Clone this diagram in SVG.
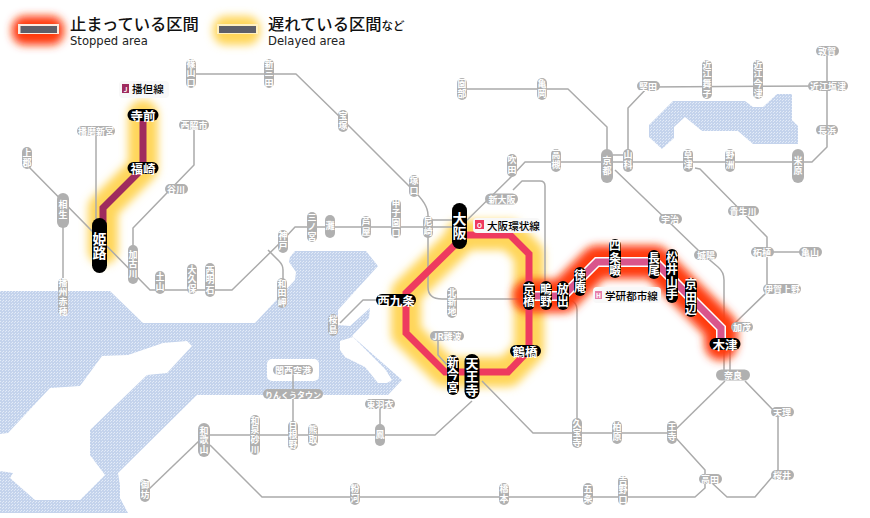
<svg xmlns="http://www.w3.org/2000/svg" width="870" height="518" viewBox="0 0 870 518">
<style>
text{font-family:"Noto Sans CJK JP","Noto Sans",sans-serif;text-anchor:middle}
.gp{fill:#b0b0b0}
.bp{fill:#000}
.g{fill:#fff;font-size:9px;font-weight:700;dominant-baseline:central}
.gv{fill:#fff;font-size:9px;font-weight:700;writing-mode:vertical-rl;letter-spacing:.6px}
.b{fill:#fff;font-size:12.5px;font-weight:700;dominant-baseline:central}
.bv{fill:#fff;font-size:12px;font-weight:700;writing-mode:vertical-rl;letter-spacing:.5px}
.bl{fill:#fff;font-size:14px;font-weight:700;writing-mode:vertical-rl;letter-spacing:.5px}
.ln{fill:none;stroke:#ababab;stroke-width:1.5;stroke-linejoin:round}
.hy{fill:none;stroke:#ffd65a;stroke-width:30;stroke-linejoin:round;stroke-linecap:round}
.hr{fill:none;stroke:#ff3a08;stroke-width:33;stroke-linejoin:round;stroke-linecap:round}
.lab{fill:#000;font-size:10.6px;font-weight:500;text-anchor:start;dominant-baseline:central}
.ico{fill:#fff;font-size:6.500px;font-weight:700;dominant-baseline:central}
.lg{fill:#111;font-size:16.3px;font-weight:500;text-anchor:start}
.le{fill:#222;font-size:11.6px;text-anchor:start;font-family:"DejaVu Sans",sans-serif}
</style>
<defs>
<filter id="blur" filterUnits="userSpaceOnUse" x="0" y="0" width="870" height="518"><feGaussianBlur stdDeviation="4.500"/></filter>
<pattern id="sea" width="3" height="3" patternUnits="userSpaceOnUse"><rect width="3" height="3" fill="#c4d3ec"/><rect x="0" y="0" width="1" height="1" fill="#e4ecf8"/><rect x="2" y="1" width="1" height="1" fill="#dfe8f6"/></pattern>
</defs>
<rect width="870" height="518" fill="#fff"/>

<g id="water">
<path fill="url(#sea)" d="M0,291L110,291L143,323L255,323L295,280L296,272L289,262L290,257L295,251L366,251L378,266L338,310L338,325L350,326L370,308L369,318L352,336L402,380L388,395L197,395L118,473L120,485L120,498L128,513L0,513Z"/>
<path fill="#fff" d="M0,434L8,433L50,388L80,386L102,356L128,355L163,343L187,341L192,346L167,373L147,375L90,430L90,455L105,475L80,500L35,500L10,478L13,473L0,471Z"/>
<path fill="#fff" d="M340,341L353,337L385,369L392,380L387,383L378,383L370,373L365,367L345,357L340,350Z"/>
<rect x="267" y="359" width="52" height="22" rx="5" fill="#fff"/>
<path fill="url(#sea)" d="M649,125L673,101L745,101L753,107L763,107L777,94L792,94L792,120L798,126L798,144L753,144L738,131L702,131L685,117L674,127L674,138L662,149L649,137Z"/>
</g>

<g id="delayed-glow" filter="url(#blur)">
<path class="hy" d="M143,115L143,168L103,208L103,250"/>
<path class="hy" d="M460,235L510,235L529,254L529,350L508,372L445,372L406,333L406,293L460,240"/>
</g>

<g id="connectors">
<path class="ln" d="M191,74L296,74L343,120L413,190Q428,204 428,215L428,287Q428,299 442,299L545,299"/>
<path class="ln" d="M428,220L460,220M428,227L460,227"/>
<path class="ln" d="M460,227L512,176L525,162L812,162L827,147L827,51"/>
<path class="ln" d="M96,131L96,235"/>
<path class="ln" d="M27,165L150,290L232,290L283,240L295,227L428,227"/>
<path class="ln" d="M63,210L63,295"/>
<path class="ln" d="M194,125L194,165L133,228L133,265"/>
<path class="ln" d="M268,250L279,261Q283,265 283,270L283,293"/>
<path class="ln" d="M462,89L568,89L607,127L607,166"/>
<path class="ln" d="M607,155L628,155"/>
<path class="ln" d="M628,160L628,108L648,87L828,86"/>
<path class="ln" d="M615,170L698,250L718,267Q724,272 724,280L724,370"/>
<path class="ln" d="M730,344L730,370"/>
<path class="ln" d="M695,168L700,169L767,237L767,292L735,323"/>
<path class="ln" d="M762,252L810,252"/>
<path class="ln" d="M725,381L672,433"/>
<path class="ln" d="M745,381L775,412L778,414L778,470L755,497L727,497L712,483"/>
<path class="ln" d="M675,437L705,470L705,488L695,497L262,497L210,445"/>
<path class="ln" d="M200,440L148,490"/>
<path class="ln" d="M204,435L435,435L472,401"/>
<path class="ln" d="M482,381L533,433L672,433"/>
<path class="ln" d="M570,300Q577,302 577,310L577,433"/>
<path class="ln" d="M438,340L438,355L447,365"/>
<path class="ln" d="M293,370L293,435"/>
<path class="ln" d="M380,404L380,435"/>
<path class="ln" d="M340,323L363,300L396,300"/>
<path class="ln" d="M513,190L522,181L540,181Q545,181 545,186L545,290"/>
</g>

<g id="stopped-glow" filter="url(#blur)">
<path class="hr" d="M529,296L563,296L597,262L655,262L721,328L721,344"/>
</g>

<g id="active-lines">
<path d="M143,115L143,168L103,208L103,240" fill="none" stroke="#9f2b5e" stroke-width="7"/>
<path d="M460,235L510,235L529,254L529,350L508,372L445,372L406,333L406,293L460,240" fill="none" stroke="#ee3a5f" stroke-width="7"/>
<path d="M529,296L563,296L597,262L655,262L721,328L721,344" fill="none" stroke="#fff" stroke-width="10"/>
<path d="M529,296L563,296L597,262L655,262L721,328L721,344" fill="none" stroke="#d9558c" stroke-width="7"/>
</g>

<g id="legend">
<g id="legend-stopped">
<rect x="12" y="16" width="52" height="29" rx="13" fill="#ff3a08" filter="url(#blur)"/>
<rect x="18" y="24" width="41" height="10" fill="#fbeadf"/>
<rect x="20.500" y="26" width="36.500" height="7" fill="#5e5f68"/>
<text class="lg" x="70" y="30">止まっている区間</text>
<text class="le" x="70" y="45">Stopped area</text>
</g>
<g id="legend-delayed">
<rect x="213" y="16" width="47" height="29" rx="13" fill="#ffd65a" filter="url(#blur)"/>
<rect x="217" y="24" width="41" height="10" fill="#fff0c0"/>
<rect x="219" y="26" width="37" height="7" fill="#5e5f68"/>
<text class="lg" x="268" y="30">遅れている区間<tspan font-size="11.500">など</tspan></text>
<text class="le" x="268" y="45">Delayed area</text>
</g>
</g>

<g id="line-labels">
<g id="label-bantan"><rect x="119" y="81" width="50" height="17" rx="4" fill="#f8f8f8"/><rect x="122" y="84" width="7" height="9" fill="#9f2b5e"/><text class="ico" x="125.500" y="88.500">J</text><text class="lab" x="132" y="88.500">播但線</text></g>
<g id="label-loop"><rect x="473" y="218" width="67" height="15" rx="4" fill="#f8f8f8"/><rect x="475" y="220" width="9" height="9" fill="#ee3a5f"/><text class="ico" x="479.500" y="224.500">O</text><text class="lab" x="487" y="225">大阪環状線</text></g>
<g id="label-gakken"><rect x="593" y="287" width="68" height="16" rx="4" fill="#f8f8f8"/><rect x="595" y="291" width="7" height="8" fill="#e67fab"/><text class="ico" x="598.500" y="295">H</text><text class="lab" x="605" y="295">学研都市線</text></g>
</g>

<g id="n-harimashingu"><rect class="gp" x="77" y="126" width="38" height="10" rx="5"/><text class="g" x="96" y="131">播磨新宮</text></g>
<g id="n-kamigori"><rect class="gp" x="22" y="147" width="10" height="22" rx="5"/><text class="gv" x="27" y="158">上郡</text></g>
<g id="n-aioi"><rect class="gp" x="57" y="193" width="12" height="35" rx="6"/><text class="gv" x="63" y="210">相生</text></g>
<g id="n-nishiwakishi"><rect class="gp" x="179" y="120" width="30" height="10" rx="5"/><text class="g" x="194" y="125">西脇市</text></g>
<g id="n-tanigawa"><rect class="gp" x="165" y="184" width="23" height="10" rx="5"/><text class="g" x="176" y="189">谷川</text></g>
<g id="n-kakogawa"><rect class="gp" x="128" y="245" width="10" height="39" rx="5"/><text class="gv" x="133" y="264">加古川</text></g>
<g id="n-tsuchiyama"><rect class="gp" x="155" y="271" width="10" height="23" rx="5"/><text class="gv" x="160" y="282">土山</text></g>
<g id="n-okubo"><rect class="gp" x="187" y="264" width="10" height="30" rx="5"/><text class="gv" x="192" y="279">大久保</text></g>
<g id="n-nishiakashi"><rect class="gp" x="205" y="263" width="10" height="34" rx="5"/><text class="gv" x="210" y="280">西明石</text></g>
<g id="n-wadamisaki"><rect class="gp" x="277" y="278" width="10" height="30" rx="5"/><text class="gv" x="282" y="293">和田岬</text></g>
<g id="n-kobe"><rect class="gp" x="278" y="230" width="10" height="23" rx="5"/><text class="gv" x="283" y="241">神戸</text></g>
<g id="n-sannomiya"><rect class="gp" x="307" y="212" width="10" height="30" rx="5"/><text class="gv" x="312" y="227">三ノ宮</text></g>
<g id="n-nada"><rect class="gp" x="325" y="215" width="10" height="23" rx="5"/><text class="gv" x="330" y="226">灘</text></g>
<g id="n-ashiya"><rect class="gp" x="361" y="216" width="10" height="22" rx="5"/><text class="gv" x="366" y="227">芦屋</text></g>
<g id="n-koshienguchi"><rect class="gp" x="391" y="199" width="10" height="39" rx="5"/><text class="gv" x="396" y="218">甲子園口</text></g>
<g id="n-amagasaki"><rect class="gp" x="423" y="216" width="10" height="22" rx="5"/><text class="gv" x="428" y="227">尼崎</text></g>
<g id="n-tsukaguchi"><rect class="gp" x="409" y="175" width="10" height="22" rx="5"/><text class="gv" x="414" y="186">塚口</text></g>
<g id="n-takarazuka"><rect class="gp" x="338" y="110" width="10" height="22" rx="5"/><text class="gv" x="343" y="121">宝塚</text></g>
<g id="n-shinsanda"><rect class="gp" x="264" y="59" width="10" height="29" rx="5"/><text class="gv" x="269" y="73">新三田</text></g>
<g id="n-sasayamaguchi"><rect class="gp" x="186" y="59" width="10" height="29" rx="5"/><text class="gv" x="191" y="73">篠山口</text></g>
<g id="n-sonobe"><rect class="gp" x="457" y="78" width="10" height="22" rx="5"/><text class="gv" x="462" y="89">園部</text></g>
<g id="n-kameoka"><rect class="gp" x="537" y="78" width="10" height="22" rx="5"/><text class="gv" x="542" y="89">亀岡</text></g>
<g id="n-kyoto"><rect class="gp" x="601" y="149" width="12" height="34" rx="6"/><text class="gv" x="607" y="166">京都</text></g>
<g id="n-yamashina"><rect class="gp" x="623" y="149" width="10" height="23" rx="5"/><text class="gv" x="628" y="160">山科</text></g>
<g id="n-katata"><rect class="gp" x="637" y="81" width="23" height="10" rx="5"/><text class="g" x="648" y="86">堅田</text></g>
<g id="n-omimaiko"><rect class="gp" x="702" y="60" width="10" height="39" rx="5"/><text class="gv" x="707" y="79">近江舞子</text></g>
<g id="n-omiimazu"><rect class="gp" x="753" y="60" width="10" height="39" rx="5"/><text class="gv" x="758" y="79">近江今津</text></g>
<g id="n-omishiozu"><rect class="gp" x="808" y="81" width="40" height="10" rx="5"/><text class="g" x="828" y="86">近江塩津</text></g>
<g id="n-tsuruga"><rect class="gp" x="816" y="46" width="23" height="10" rx="5"/><text class="g" x="827" y="51">敦賀</text></g>
<g id="n-nagahama"><rect class="gp" x="816" y="125" width="22" height="10" rx="5"/><text class="g" x="827" y="130">長浜</text></g>
<g id="n-maibara"><rect class="gp" x="792" y="149" width="12" height="34" rx="6"/><text class="gv" x="798" y="166">米原</text></g>
<g id="n-yasu"><rect class="gp" x="725" y="149" width="10" height="23" rx="5"/><text class="gv" x="730" y="160">野洲</text></g>
<g id="n-kusatsu"><rect class="gp" x="683" y="149" width="10" height="23" rx="5"/><text class="gv" x="688" y="160">草津</text></g>
<g id="n-takatsuki"><rect class="gp" x="551" y="149" width="10" height="23" rx="5"/><text class="gv" x="556" y="160">高槻</text></g>
<g id="n-suita"><rect class="gp" x="507" y="154" width="10" height="23" rx="5"/><text class="gv" x="512" y="165">吹田</text></g>
<g id="n-shinosaka"><rect class="gp" x="485" y="193.500" width="33" height="11" rx="5.500"/><text class="g" x="502" y="199">新大阪</text></g>
<g id="n-uji"><rect class="gp" x="659" y="214" width="23" height="10" rx="5"/><text class="g" x="670" y="219">宇治</text></g>
<g id="n-joyo"><rect class="gp" x="694" y="250" width="23" height="10" rx="5"/><text class="g" x="706" y="255">城陽</text></g>
<g id="n-kibukawa"><rect class="gp" x="728" y="206" width="31" height="10" rx="5"/><text class="g" x="743" y="211">貴生川</text></g>
<g id="n-tsuge"><rect class="gp" x="751" y="247" width="23" height="10" rx="5"/><text class="g" x="762" y="252">柘植</text></g>
<g id="n-kameyama"><rect class="gp" x="799" y="247" width="23" height="10" rx="5"/><text class="g" x="810" y="252">亀山</text></g>
<g id="n-igaueno"><rect class="gp" x="763" y="284" width="38" height="10" rx="5"/><text class="g" x="782" y="289">伊賀上野</text></g>
<g id="n-kamo"><rect class="gp" x="731" y="322" width="22" height="10" rx="5"/><text class="g" x="742" y="327">加茂</text></g>
<g id="n-nara"><rect class="gp" x="716" y="369.500" width="34" height="11" rx="5.500"/><text class="g" x="733" y="375">奈良</text></g>
<g id="n-tenri"><rect class="gp" x="771" y="407" width="23" height="10" rx="5"/><text class="g" x="782" y="412">天理</text></g>
<g id="n-sakurai"><rect class="gp" x="771" y="470" width="23" height="10" rx="5"/><text class="g" x="782" y="475">桜井</text></g>
<g id="n-takada"><rect class="gp" x="699" y="474" width="23" height="10" rx="5"/><text class="g" x="710" y="479">高田</text></g>
<g id="n-oji"><rect class="gp" x="667" y="421" width="10" height="23" rx="5"/><text class="gv" x="672" y="432">王寺</text></g>
<g id="n-kashiwara"><rect class="gp" x="612" y="421" width="10" height="23" rx="5"/><text class="gv" x="617" y="432">柏原</text></g>
<g id="n-kyuhoji"><rect class="gp" x="572" y="418" width="10" height="30" rx="5"/><text class="gv" x="577" y="433">久宝寺</text></g>
<g id="n-yoshinoguchi"><rect class="gp" x="618" y="476" width="10" height="29" rx="5"/><text class="gv" x="623" y="490">吉野口</text></g>
<g id="n-gojo"><rect class="gp" x="583" y="483" width="10" height="22" rx="5"/><text class="gv" x="588" y="494">五条</text></g>
<g id="n-hashimoto"><rect class="gp" x="499" y="483" width="10" height="22" rx="5"/><text class="gv" x="504" y="494">橋本</text></g>
<g id="n-kokawa"><rect class="gp" x="350" y="483" width="10" height="22" rx="5"/><text class="gv" x="355" y="494">粉河</text></g>
<g id="n-wakayama"><rect class="gp" x="198" y="423" width="12" height="34" rx="6"/><text class="gv" x="204" y="440">和歌山</text></g>
<g id="n-izumisunagawa"><rect class="gp" x="250" y="415" width="10" height="40" rx="5"/><text class="gv" x="255" y="435">和泉砂川</text></g>
<g id="n-hineno"><rect class="gp" x="288" y="421" width="10" height="29" rx="5"/><text class="gv" x="293" y="435">日根野</text></g>
<g id="n-kumatori"><rect class="gp" x="308" y="424" width="10" height="22" rx="5"/><text class="gv" x="313" y="435">熊取</text></g>
<g id="n-otori"><rect class="gp" x="375" y="424" width="10" height="22" rx="5"/><text class="gv" x="380" y="435">鳳</text></g>
<g id="n-higashihagoromo"><rect class="gp" x="365" y="399" width="30" height="10" rx="5"/><text class="g" x="380" y="404">東羽衣</text></g>
<g id="n-rinku"><rect class="gp" x="263" y="389" width="60" height="10" rx="5"/><text class="g" x="293" y="394" style="font-size:8px">りんくうタウン</text></g>
<g id="n-kix"><rect class="gp" x="273" y="365" width="40" height="10" rx="5"/><text class="g" x="293" y="370">関西空港</text></g>
<g id="n-gobo"><rect class="gp" x="140" y="479" width="10" height="23" rx="5"/><text class="gv" x="145" y="490">御坊</text></g>
<g id="n-sakurajima"><rect class="gp" x="328" y="314" width="10" height="22" rx="5"/><text class="gv" x="333" y="325">桜島</text></g>
<g id="n-kitashinchi"><rect class="gp" x="447" y="287" width="10" height="31" rx="5"/><text class="gv" x="452" y="302">北新地</text></g>
<g id="n-jrnamba"><rect class="gp" x="430" y="331" width="34" height="10" rx="5"/><text class="g" x="447" y="336">JR難波</text></g>
<g id="n-banshuako"><rect class="gp" x="58" y="278" width="10" height="38" rx="5"/><text class="gv" x="63" y="297">播州赤穂</text></g>

<g id="n-teramae"><rect class="bp" x="127.500" y="109" width="31" height="12" rx="6"/><text class="b" x="143" y="115">寺前</text></g>
<g id="n-fukusaki"><rect class="bp" x="127.500" y="162" width="31" height="12" rx="6"/><text class="b" x="143" y="168">福崎</text></g>
<g id="n-himeji"><rect class="bp" x="92" y="218" width="15" height="55" rx="7.500"/><text class="bl" x="99.500" y="246">姫路</text></g>
<g id="n-osaka"><rect class="bp" x="452" y="203" width="15" height="46" rx="7.500"/><text class="bl" x="459.500" y="226">大阪</text></g>
<g id="n-nishikujo"><rect class="bp" x="376" y="294" width="40" height="12" rx="6"/><text class="b" x="396" y="300">西九条</text></g>
<g id="n-shinimamiya"><rect class="bp" x="447" y="355" width="12" height="40" rx="6"/><text class="bv" x="453" y="375">新今宮</text></g>
<g id="n-tennoji"><rect class="bp" x="464.500" y="354" width="15" height="45" rx="7.500"/><text class="bl" x="472" y="376.500" style="font-size:13px">天王寺</text></g>
<g id="n-tsuruhashi"><rect class="bp" x="510" y="345" width="31" height="12" rx="6"/><text class="b" x="525" y="351">鶴橋</text></g>
<g id="n-kyobashi"><rect class="bp" x="523" y="281" width="12" height="29" rx="6"/><text class="bv" x="529" y="295.500">京橋</text></g>
<g id="n-shigino"><rect class="bp" x="540" y="281" width="12" height="29" rx="6"/><text class="bv" x="546" y="295.500">鴫野</text></g>
<g id="n-hanaten"><rect class="bp" x="557" y="281" width="12" height="29" rx="6"/><text class="bv" x="563" y="295.500">放出</text></g>
<g id="n-tokuan"><rect class="bp" x="574" y="267" width="12" height="29" rx="6"/><text class="bv" x="580" y="281.500">徳庵</text></g>
<g id="n-shijonawate"><rect class="bp" x="609" y="239" width="12" height="39" rx="6"/><text class="bv" x="615" y="258.500">四条畷</text></g>
<g id="n-nagao"><rect class="bp" x="648" y="250" width="12" height="29" rx="6"/><text class="bv" x="654" y="264.500">長尾</text></g>
<g id="n-matsuiyamate"><rect class="bp" x="666" y="249" width="12" height="54" rx="6"/><text class="bv" x="672" y="276">松井山手</text></g>
<g id="n-kyotanabe"><rect class="bp" x="685" y="278" width="12" height="39" rx="6"/><text class="bv" x="691" y="297.500">京田辺</text></g>
<g id="n-kizu"><rect class="bp" x="709.500" y="338" width="31" height="12" rx="6"/><text class="b" x="725" y="344">木津</text></g>
</svg>
